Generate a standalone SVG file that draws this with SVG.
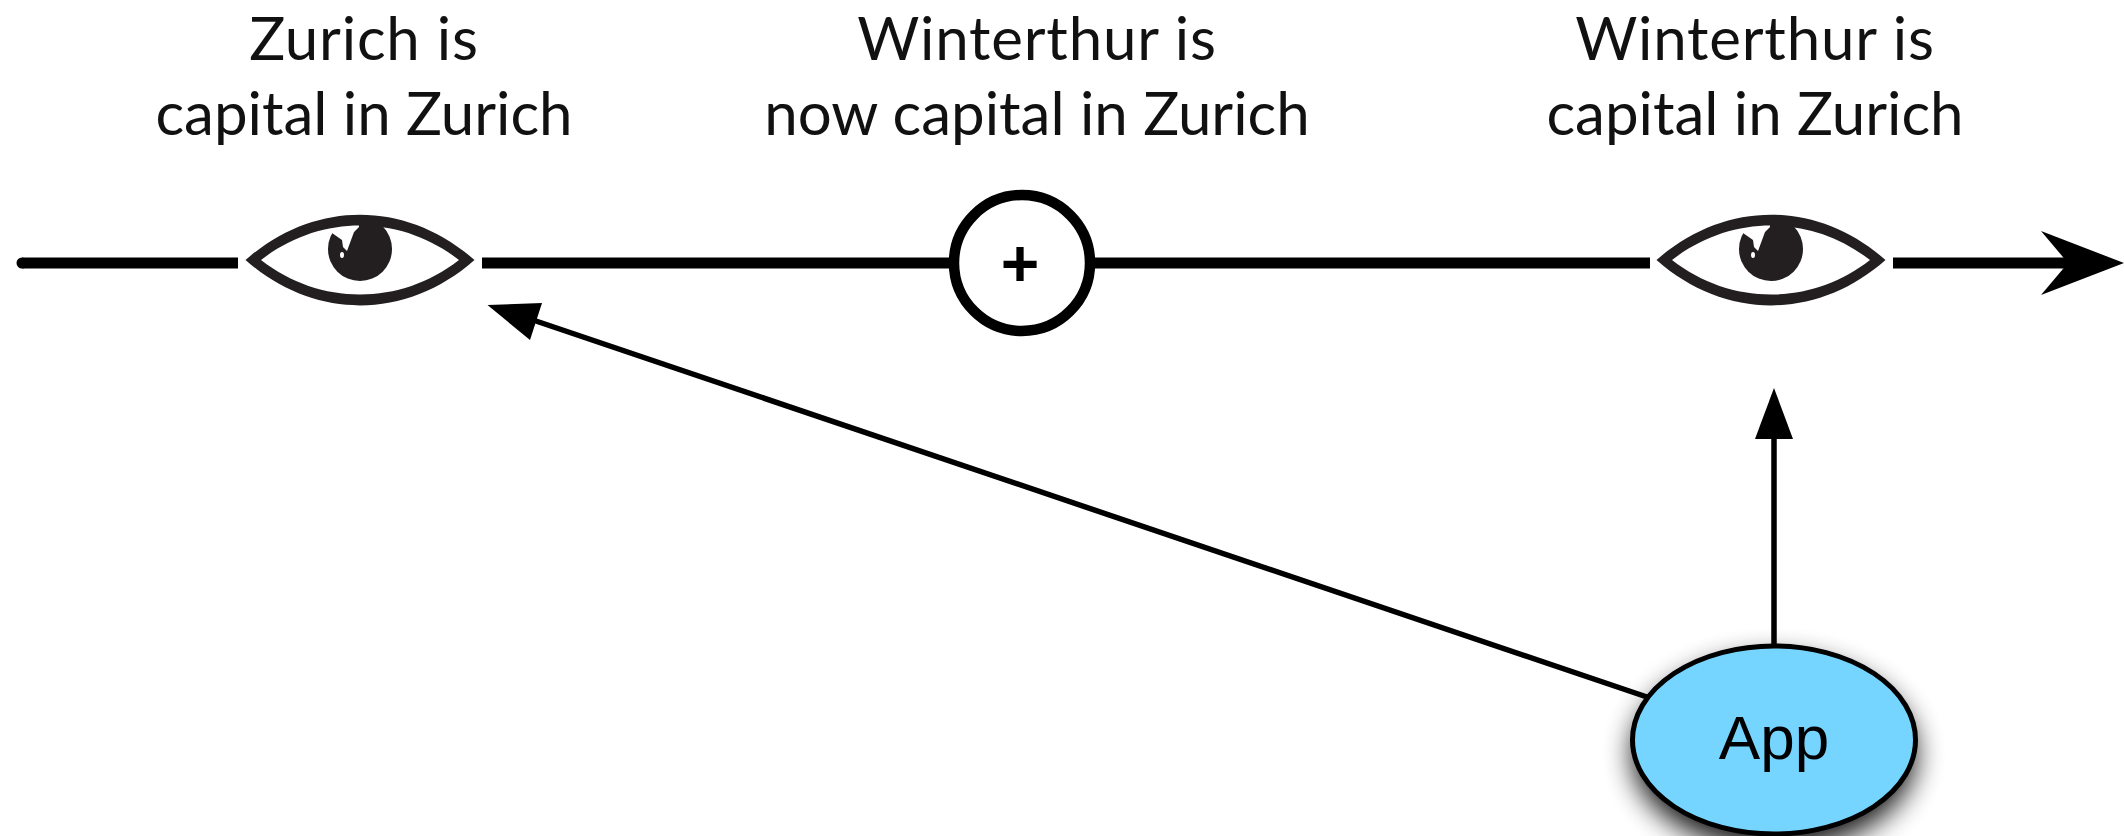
<svg xmlns="http://www.w3.org/2000/svg" width="2124" height="836" viewBox="0 0 2124 836">
<style>
.lbl{font-family:"Lato","Open Sans",sans-serif;font-size:60px;fill:#111;text-anchor:middle}
.s{letter-spacing:.8px}
.tl{stroke:#000;stroke-width:11;fill:none}
.thin{stroke:#000;stroke-width:5.5;fill:none}
</style>
<defs>
<filter id="sh" x="-30%" y="-30%" width="160%" height="170%"><feGaussianBlur stdDeviation="14"/></filter>
<symbol id="eye" overflow="visible" viewBox="-120 -60 240 120" width="240" height="120">
<circle cx="0" cy="-11" r="32" fill="#231F20"/>
<path d="M-28,-27 L-18,-20 L-17,-13 L-13,-9 L-6,-28 L-1,-33 L-1,-45 L-40,-45 Z" fill="#fff"/>
<path d="M22,-34 L40,-45 L0,-45 Z" fill="#fff"/>
<ellipse cx="-18" cy="-5" rx="2" ry="3" fill="#fff"/>
<path d="M-114.500,0 C-46,-60.500 46,-60.500 114.500,0 C46,60.500 -46,60.500 -114.500,0 Z M-99,0 C-40,46 40,46 99,0 C40,-46 -40,-46 -99,0 Z" fill="#231F20" fill-rule="evenodd"/>
</symbol>
</defs>
<g id="connectors">
<path class="tl" d="M22,263 H238 M482,263 H950 M1094,263 H1650 M1893,263 H2075"/>
<circle cx="22" cy="263" r="5.500" fill="#000"/>
<path d="M2124,263 L2041,231 L2068,263 L2041,295 Z" fill="#000"/>
<path class="thin" d="M1774,645 V435"/>
<path d="M1774,388 L1793,439 H1755 Z" fill="#000"/>
<path class="thin" d="M1647,697 L530,319"/>
<path d="M487.500,305 L542,303 L530,340 Z" fill="#000"/>
</g>
<g id="eye-1"><use href="#eye" x="240" y="200"/></g>
<g id="plus"><circle cx="1022" cy="263" r="68" fill="#fff" stroke="#000" stroke-width="10.500"/>
<text x="1020" y="286" style="font-family:'Liberation Sans',sans-serif;font-weight:700;font-size:66px;text-anchor:middle">+</text></g>
<g id="eye-2"><use href="#eye" x="1651" y="200"/></g>
<g id="app">
<ellipse cx="1774" cy="754" rx="142" ry="96" fill="#000" opacity=".9" filter="url(#sh)"/>
<ellipse cx="1774" cy="740" rx="141.500" ry="94" fill="#75D5FF" stroke="#000" stroke-width="5"/>
<text x="1774" y="759" style="font-family:'Liberation Sans',sans-serif;font-size:62px;text-anchor:middle;fill:#000">App</text>
</g>
<g id="label-1"><text class="lbl s" x="364" y="60">Zurich is</text><text class="lbl" x="364" y="135">capital in Zurich</text></g>
<g id="label-2"><text class="lbl s" x="1037" y="60">Winterthur is</text><text class="lbl" x="1037" y="135">now capital in Zurich</text></g>
<g id="label-3"><text class="lbl s" x="1755" y="60">Winterthur is</text><text class="lbl" x="1755" y="135">capital in Zurich</text></g>
</svg>
